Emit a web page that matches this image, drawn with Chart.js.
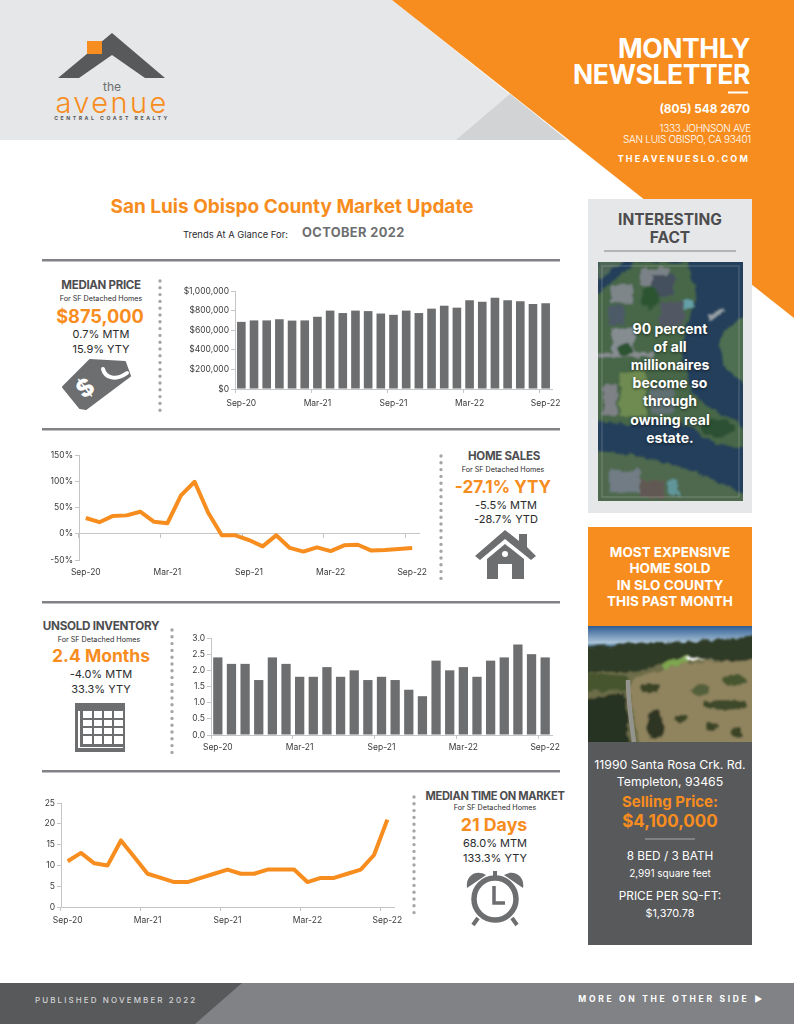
<!DOCTYPE html>
<html>
<head>
<meta charset="utf-8">
<title>Monthly Newsletter</title>
<script src="https://cdn.jsdelivr.net/npm/chart.js@4"></script>
<style>
html, body { margin: 0; padding: 0; background: #fff; }
#page { position: relative; width: 794px; height: 1024px; overflow: hidden; font-family: Inter, sans-serif; }
#page svg.bg { position: absolute; left: 0; top: 0; }
#page canvas { position: absolute; }
.t { position: absolute; white-space: nowrap; line-height: 1; transform: translate(-50%, -50%); }
.r { transform: translate(-100%, -50%); }
.l { transform: translate(0, -50%); }
</style>
</head>
<body>
<div id="page">
<svg class="bg" width="794" height="1024" viewBox="0 0 794 1024">
  <defs>
    <linearGradient id="sky" x1="0" y1="0" x2="0" y2="1">
      <stop offset="0" stop-color="#2d5c92"/><stop offset="0.75" stop-color="#a9c2d6"/><stop offset="1" stop-color="#3f6f96"/>
    </linearGradient>
    <clipPath id="lakeClip"><rect x="598" y="262" width="145" height="239"/></clipPath>
    <clipPath id="hillClip"><rect x="588" y="626" width="164" height="116"/></clipPath>
    <filter id="rough" x="-5%" y="-5%" width="110%" height="110%">
      <feTurbulence type="fractalNoise" baseFrequency="0.12" numOctaves="3" seed="4" result="n"/>
      <feDisplacementMap in="SourceGraphic" in2="n" scale="7" xChannelSelector="R" yChannelSelector="G"/>
      <feGaussianBlur stdDeviation="1"/>
    </filter>
    <filter id="grain">
      <feTurbulence type="fractalNoise" baseFrequency="0.3" numOctaves="2" seed="9"/>
      <feColorMatrix type="matrix" values="0 0 0 0 0  0 0 0 0 0  0 0 0 0 0  1.6 0 0 0 -0.6"/>
      <feGaussianBlur stdDeviation="0.7"/>
    </filter>
  </defs>

  <!-- header -->
  <polygon points="0,0 392,0 567,140 0,140" fill="#e6e7e8"/>
  <polygon points="456,140 510,94 567,140" fill="#d1d3d4"/>
  <polygon points="392,0 794,0 794,318" fill="#f78d1e"/>
  <rect x="728" y="91.5" width="20" height="2" fill="#fff"/>

  <!-- logo -->
  <polygon points="112,33 165,78 145,78 112,55 79,78 58,78" fill="#58595b"/>
  <rect x="87" y="41" width="15" height="13" fill="#f78d1e"/>

  <!-- section rules -->
  <rect x="42" y="259" width="518" height="2.5" fill="#808285"/>
  <rect x="42" y="428" width="518" height="2.5" fill="#808285"/>
  <rect x="42" y="601" width="518" height="2.5" fill="#808285"/>
  <rect x="42" y="770" width="518" height="2.5" fill="#808285"/>

  <!-- dotted separators -->
  <g stroke="#a3a5a8" stroke-width="3.4" stroke-linecap="round" stroke-dasharray="0 6.8">
    <line x1="160" y1="281" x2="160" y2="411"/>
    <line x1="441" y1="456" x2="441" y2="579"/>
    <line x1="172" y1="630" x2="172" y2="753"/>
    <line x1="414" y1="797" x2="414" y2="919"/>
  </g>

  <!-- tag icon -->
  <g>
    <polygon points="63,387 90,360 125,362 130,376 86,409 80,408" fill="#6d6e70" stroke="#6d6e70" stroke-width="2" stroke-linejoin="round"/>
    <path d="M103,369 C105,378 116,381 127,373" stroke="#fff" stroke-width="4" fill="none" stroke-linecap="round"/>
    <text x="86" y="396" transform="rotate(-38 86 389)" font-family="Inter" font-weight="800" font-size="24" fill="#fff" text-anchor="middle">$</text>
  </g>

  <!-- house icon -->
  <g fill="#6d6e70">
    <polygon points="505,530 519,541 519,534 527,534 527,547 536,556 531,560 505,539 480,560 475,556"/>
    <polygon points="505,544 524,559 524,579 512,579 512,564 498,564 498,579 487,579 487,559"/>
    <circle cx="505" cy="554" r="3" fill="#fff"/>
  </g>

  <!-- calendar icon -->
  <g>
    <rect x="75" y="703" width="50" height="49" fill="#6d6e70"/>
    <rect x="78" y="711" width="45" height="37" fill="#fff"/>
    <g fill="#6d6e70">
      <rect x="80" y="711" width="3" height="35"/>
      <rect x="83" y="718" width="40" height="2"/>
      <rect x="83" y="726" width="40" height="2"/>
      <rect x="83" y="734" width="40" height="2"/>
      <rect x="92" y="711" width="2" height="33"/>
      <rect x="102" y="711" width="2" height="33"/>
      <rect x="112" y="711" width="2" height="33"/>
      <rect x="80" y="744" width="44" height="3"/>
    </g>
  </g>

  <!-- clock icon -->
  <g>
    <path d="M467,888 C465,876 476,869 486,875 Z" fill="#6d6e70"/>
    <path d="M523,888 C525,876 514,869 504,875 Z" fill="#6d6e70"/>
    <rect x="493" y="871" width="4" height="6" fill="#6d6e70"/>
    <line x1="478" y1="918" x2="473" y2="925" stroke="#6d6e70" stroke-width="4"/>
    <line x1="512" y1="918" x2="517" y2="925" stroke="#6d6e70" stroke-width="4"/>
    <circle cx="495" cy="899" r="21" fill="#fff" stroke="#6d6e70" stroke-width="5.5"/>
    <path d="M494,886 V903 H505" fill="none" stroke="#6d6e70" stroke-width="3.5"/>
  </g>

  <!-- interesting fact panel -->
  <rect x="588" y="199" width="164" height="314" fill="#e6e7e8"/>
  <rect x="604" y="250.5" width="132" height="1" fill="#808285"/>
  <g clip-path="url(#lakeClip)">
    <rect x="598" y="262" width="145" height="239" fill="#25425f"/>
    <g filter="url(#rough)">
      <polygon points="596,258 628,258 598,282" fill="#55705a"/>
      <polygon points="605,288 635,262 688,262 696,298 688,322 682,355 692,395 718,412 745,428 745,447 718,445 685,425 652,418 628,425 594,422 594,298" fill="#4e6f48"/>
      <polygon points="594,452 635,455 685,468 746,495 746,505 594,505" fill="#56734f"/>
      <polygon points="720,335 746,316 746,385 725,368 720,348" fill="#567a52"/>
      <!-- roofs and lawns -->
      <rect x="611" y="285" width="22" height="18" fill="#8d9496"/>
      <rect x="640" y="268" width="28" height="18" fill="#8a9092"/>
      <rect x="652" y="275" width="22" height="22" fill="#4b5663"/>
      <rect x="660" y="302" width="24" height="24" fill="#5a5f68"/>
      <rect x="608" y="305" width="16" height="20" fill="#53606c"/>
      <rect x="612" y="328" width="22" height="26" fill="#969c9e"/>
      <rect x="620" y="372" width="26" height="44" fill="#7b9a52"/>
      <rect x="603" y="385" width="14" height="30" fill="#8d8f90"/>
      <rect x="598" y="352" width="55" height="5" fill="#9a9c9c"/>
      <rect x="650" y="388" width="24" height="26" fill="#6a7a78"/>
      <rect x="683" y="300" width="10" height="8" fill="#6fb3b8"/>
      <rect x="708" y="312" width="16" height="5" fill="#aab0b4" transform="rotate(-30 716 314)"/>
      <rect x="610" y="470" width="30" height="22" fill="#7f8990"/>
      <rect x="640" y="480" width="24" height="18" fill="#6d5f55"/>
      <rect x="668" y="480" width="10" height="14" fill="#6aa6a8"/>
      <ellipse cx="650" cy="298" rx="9" ry="11" fill="#2f5a2e"/>
      <ellipse cx="625" cy="350" rx="8" ry="6" fill="#2f5a2e"/>
      <ellipse cx="718" cy="428" rx="16" ry="9" fill="#2e5530"/>
    </g>
    <rect x="598" y="262" width="145" height="239" fill="#24344a" opacity="0.14"/>
    <rect x="602" y="266" width="137" height="231" fill="none" stroke="#fff" stroke-opacity="0.22"/>
  </g>

  <!-- most expensive panel -->
  <rect x="588" y="527" width="164" height="99" fill="#f78d1e"/>
  <g clip-path="url(#hillClip)">
    <rect x="588" y="626" width="164" height="22" fill="url(#sky)"/>
    <g filter="url(#rough)">
      <rect x="580" y="660" width="180" height="90" fill="#6d6d4a"/>
      <polygon points="580,647 628,644 685,642 760,636 760,664 685,657 635,672 580,672" fill="#2f3a28"/>
      <polygon points="635,677 685,663 760,660 760,750 642,750 628,687" fill="#90845f"/>
      <polygon points="660,665 685,657 688,662 665,669" fill="#7ea650"/>
      <polygon points="580,672 628,676 628,690 580,692" fill="#46552f"/>
      <polygon points="580,700 625,692 630,750 580,750" fill="#283222"/>
      <ellipse cx="650" cy="688" rx="10" ry="5" fill="#3a4428"/>
      <ellipse cx="700" cy="690" rx="9" ry="5" fill="#53603a"/>
      <ellipse cx="735" cy="680" rx="14" ry="5" fill="#47572f"/>
      <ellipse cx="725" cy="705" rx="22" ry="5" fill="#3c4a29"/>
      <ellipse cx="655" cy="725" rx="9" ry="15" fill="#2e3623"/>
      <ellipse cx="682" cy="718" rx="7" ry="4" fill="#3b4428"/>
      <ellipse cx="712" cy="726" rx="6" ry="4" fill="#3b4428"/>
      <ellipse cx="736" cy="733" rx="6" ry="5" fill="#3b4428"/>
    </g>
    <path d="M628,680 Q628,700 634,742" fill="none" stroke="#94948e" stroke-width="4.5"/>
  </g>
  <rect x="588" y="742" width="164" height="203" fill="#58595b"/>
  <rect x="645" y="838.5" width="50" height="1" fill="#a7a9ac"/>

  <!-- footer -->
  <rect x="0" y="983" width="794" height="41" fill="#808285"/>
  <polygon points="0,983 242,983 195,1024 0,1024" fill="#58595b"/>
</svg>

<canvas id="priceChart" width="412" height="133" style="left:170px;top:281px"></canvas>
<canvas id="salesChart" width="420" height="139" style="left:29px;top:445px"></canvas>
<canvas id="inventoryChart" width="411" height="132" style="left:171px;top:628px"></canvas>
<canvas id="timeChart" width="394" height="139" style="left:30px;top:793px"></canvas>
</div>

<script>
// months on the x axis
var months = ['Sep-20','Oct-20','Nov-20','Dec-20','Jan-21','Feb-21','Mar-21','Apr-21','May-21','Jun-21','Jul-21','Aug-21',
    'Sep-21','Oct-21','Nov-21','Dec-21','Jan-22','Feb-22','Mar-22','Apr-22','May-22','Jun-22','Jul-22','Aug-22','Sep-22'];

// values
var medianPrice = [685000,700000,700000,712000,698000,700000,737000,800000,775000,800000,795000,770000,
    757000,800000,775000,820000,850000,830000,905000,890000,930000,905000,895000,868000,875000];
var homeSales = [30,22,34,35,42,23,20,73,99,40,-3,-3,-12,-24,-3,-27,-34,-26,-33,-22,-21,-32,-31,-29,-27];
var inventory = [2.4,2.2,2.2,1.7,2.4,2.2,1.8,1.8,2.1,1.8,2.0,1.7,1.8,1.7,1.4,1.2,2.3,2.0,2.1,1.8,2.3,2.4,2.8,2.5,2.4];
var timeOnMarket = [11,13,10.5,10,16,12,8,7,6,6,7,8,9,8,8,9,9,9,6,7,7,8,9,12.5,21];

var ORANGE = '#f78d1e';
var BAR_GRAY = '#6d6e70';
var AXIS_GRAY = '#c4c5c7';
var TICK_TEXT = '#3a3a3c';
var tickFont = { family: 'Inter', size: 8.5 };

// shows the tick mark only on every 6th month
function everySixth(ctx) {
    return ctx.index % 6 === 0 ? AXIS_GRAY : 'rgba(0,0,0,0)';
}

function xAxis(height, padding) {
    return {
        offset: true,
        grid: { display: true, offset: true, drawOnChartArea: false, tickLength: 4, tickColor: everySixth },
        border: { color: AXIS_GRAY },
        ticks: {
            autoSkip: false, maxRotation: 0, minRotation: 0, padding: padding, color: TICK_TEXT, font: tickFont,
            callback: function(v, i) { return i % 6 === 0 ? months[i] : ''; }
        },
        afterFit: function(scale) { scale.height = height; }
    };
}

function yAxis(width, min, max, step, format) {
    return {
        min: min, max: max,
        grid: { drawOnChartArea: false, tickLength: 4, tickColor: AXIS_GRAY },
        border: { color: AXIS_GRAY },
        ticks: { stepSize: step, padding: 2, color: TICK_TEXT, font: tickFont, callback: format },
        afterFit: function(scale) { scale.width = width; }
    };
}

function barDataset(values) {
    return { data: values, backgroundColor: BAR_GRAY, barPercentage: 0.68, categoryPercentage: 1 };
}

function lineDataset(values) {
    return { data: values, borderColor: ORANGE, borderWidth: 4, pointRadius: 0, tension: 0, fill: false, borderJoinStyle: 'round' };
}

function makeChart(id, type, dataset, scales) {
    return new Chart(document.getElementById(id), {
        type: type,
        data: { labels: months, datasets: [dataset] },
        options: {
            responsive: false,
            animation: false,
            layout: { padding: { top: 10, right: 30, left: 0, bottom: 0 } },
            plugins: { legend: { display: false }, tooltip: { enabled: false } },
            scales: scales
        }
    });
}

// median price
makeChart('priceChart', 'bar', barDataset(medianPrice), {
    x: xAxis(25, 5),
    y: yAxis(65, 0, 1000000, 200000, function(v) { return '$' + v.toLocaleString('en-US'); })
});

// home sales, the axis line sits on 0% but the month labels stay at the bottom
var salesScales = {
    x: xAxis(24, 7),
    y: yAxis(50, -50, 150, 50, function(v) { return v + '%'; }),
    zeroLine: {
        type: 'category', axis: 'x', position: { y: 0 }, labels: months, offset: true,
        grid: { display: true, offset: true, drawOnChartArea: false, tickLength: 4, tickColor: everySixth },
        border: { color: AXIS_GRAY },
        ticks: { display: false }
    }
};
salesScales.x.border = { display: false };
salesScales.x.grid = { display: false, drawTicks: false };
makeChart('salesChart', 'line', lineDataset(homeSales), salesScales);

// unsold inventory
makeChart('inventoryChart', 'bar', barDataset(inventory), {
    x: xAxis(25, 3),
    y: yAxis(40, 0, 3, 0.5, function(v) { return v.toFixed(1); })
});

// median time on market
makeChart('timeChart', 'line', lineDataset(timeOnMarket), {
    x: xAxis(25, 4),
    y: yAxis(31, 0, 25, 5, function(v) { return v; })
});

// all the page text, x and y are the anchor point of each line
function addText(text, x, y, size, weight, color, align, spacing) {
    var el = document.createElement('div');
    el.className = 't' + (align ? ' ' + align : '');
    el.textContent = text;
    el.style.left = x + 'px';
    el.style.top = y + 'px';
    el.style.fontSize = size + 'px';
    el.style.fontWeight = weight;
    el.style.color = color;
    if (spacing) el.style.letterSpacing = spacing + 'px';
    document.getElementById('page').appendChild(el);
    return el;
}

var DARK = '#4d4d4f';
var BLACK = '#2b2b2d';

// header
addText('MONTHLY', 750, 48, 26.5, 700, '#fff', 'r', -0.4);
addText('NEWSLETTER', 750, 74, 26.5, 700, '#fff', 'r', -0.4);
addText('(805) 548 2670', 750, 109.5, 11.8, 700, '#fff', 'r');
addText('1333 JOHNSON AVE', 751, 128, 10, 300, '#fff', 'r', -0.3);
addText('SAN LUIS OBISPO, CA 93401', 751, 139, 10, 300, '#fff', 'r', -0.3);
addText('THEAVENUESLO.COM', 750, 158, 9, 700, '#fff', 'r', 2.2);

// logo
addText('the', 112, 87, 12, 400, '#6d6e70');
addText('avenue', 112, 102, 29, 300, ORANGE, '', 2.4);
addText('CENTRAL COAST REALTY', 112, 119, 5.2, 700, '#58595b', '', 2.5);

// title
addText('San Luis Obispo County Market Update', 292, 206, 19, 700, ORANGE);
addText('Trends At A Glance For:', 183, 234.5, 9.4, 400, BLACK, 'l');
addText('OCTOBER 2022', 302, 233, 12.8, 700, '#6d6e70', 'l', 0.4);

// median price block
addText('MEDIAN PRICE', 101, 286, 11.5, 700, DARK, '', -0.3);
addText('For SF Detached Homes', 101, 299, 7.2, 400, BLACK);
addText('$875,000', 100, 316, 18.2, 700, ORANGE);
addText('0.7% MTM', 101, 334, 11, 400, BLACK);
addText('15.9% YTY', 101, 348.5, 11, 400, BLACK);

// home sales block
addText('HOME SALES', 504, 457, 11.5, 700, DARK, '', -0.3);
addText('For SF Detached Homes', 503, 470, 7.2, 400, BLACK);
addText('-27.1% YTY', 503, 487, 17.2, 700, ORANGE);
addText('-5.5% MTM', 506, 505, 11, 400, BLACK);
addText('-28.7% YTD', 506, 519, 11, 400, BLACK);

// inventory block
addText('UNSOLD INVENTORY', 101, 627, 11.7, 700, DARK, '', -0.3);
addText('For SF Detached Homes', 99, 640, 7.2, 400, BLACK);
addText('2.4 Months', 101, 656, 17.5, 700, ORANGE);
addText('-4.0% MTM', 101, 674, 11, 400, BLACK);
addText('33.3% YTY', 101, 689, 11, 400, BLACK);

// time on market block
addText('MEDIAN TIME ON MARKET', 495, 797, 11.1, 700, DARK, '', -0.3);
addText('For SF Detached Homes', 495, 808, 7.2, 400, BLACK);
addText('21 Days', 494, 825, 17.8, 700, ORANGE);
addText('68.0% MTM', 495, 843, 11, 400, BLACK);
addText('133.3% YTY', 495, 858, 11, 400, BLACK);

// interesting fact
addText('INTERESTING', 670, 220, 15.5, 700, DARK);
addText('FACT', 670, 238, 15.5, 700, DARK);
['90 percent', 'of all', 'millionaires', 'become so', 'through', 'owning real', 'estate.'].forEach(function(line, i) {
    var el = addText(line, 670, 328.5 + i * 18.2, 14, 700, '#fff');
    el.style.textShadow = '0 1px 3px rgba(0,0,0,0.6)';
});

// most expensive home
['MOST EXPENSIVE', 'HOME SOLD', 'IN SLO COUNTY', 'THIS PAST MONTH'].forEach(function(line, i) {
    addText(line, 670, 553 + i * 16.4, 13.5, 700, '#fff');
});
addText('11990 Santa Rosa Crk. Rd.', 670, 765, 12.3, 400, '#fff');
addText('Templeton, 93465', 670, 782, 12.3, 400, '#fff');
addText('Selling Price:', 670, 801, 15, 700, ORANGE);
addText('$4,100,000', 670, 821, 17, 700, ORANGE);
addText('8 BED / 3 BATH', 670, 857, 11.8, 400, '#fff');
addText('2,991 square feet', 670, 873, 10, 400, '#fff');
addText('PRICE PER SQ-FT:', 670, 897, 11.8, 400, '#fff');
addText('$1,370.78', 670, 914, 10.8, 400, '#fff');

// footer
addText('PUBLISHED NOVEMBER 2022', 35, 1000, 8, 500, '#d1d3d4', 'l', 2.1);
addText('MORE ON THE OTHER SIDE \u25B6', 765, 999, 8.5, 700, '#fff', 'r', 2.7);
</script>
</body>
</html>
